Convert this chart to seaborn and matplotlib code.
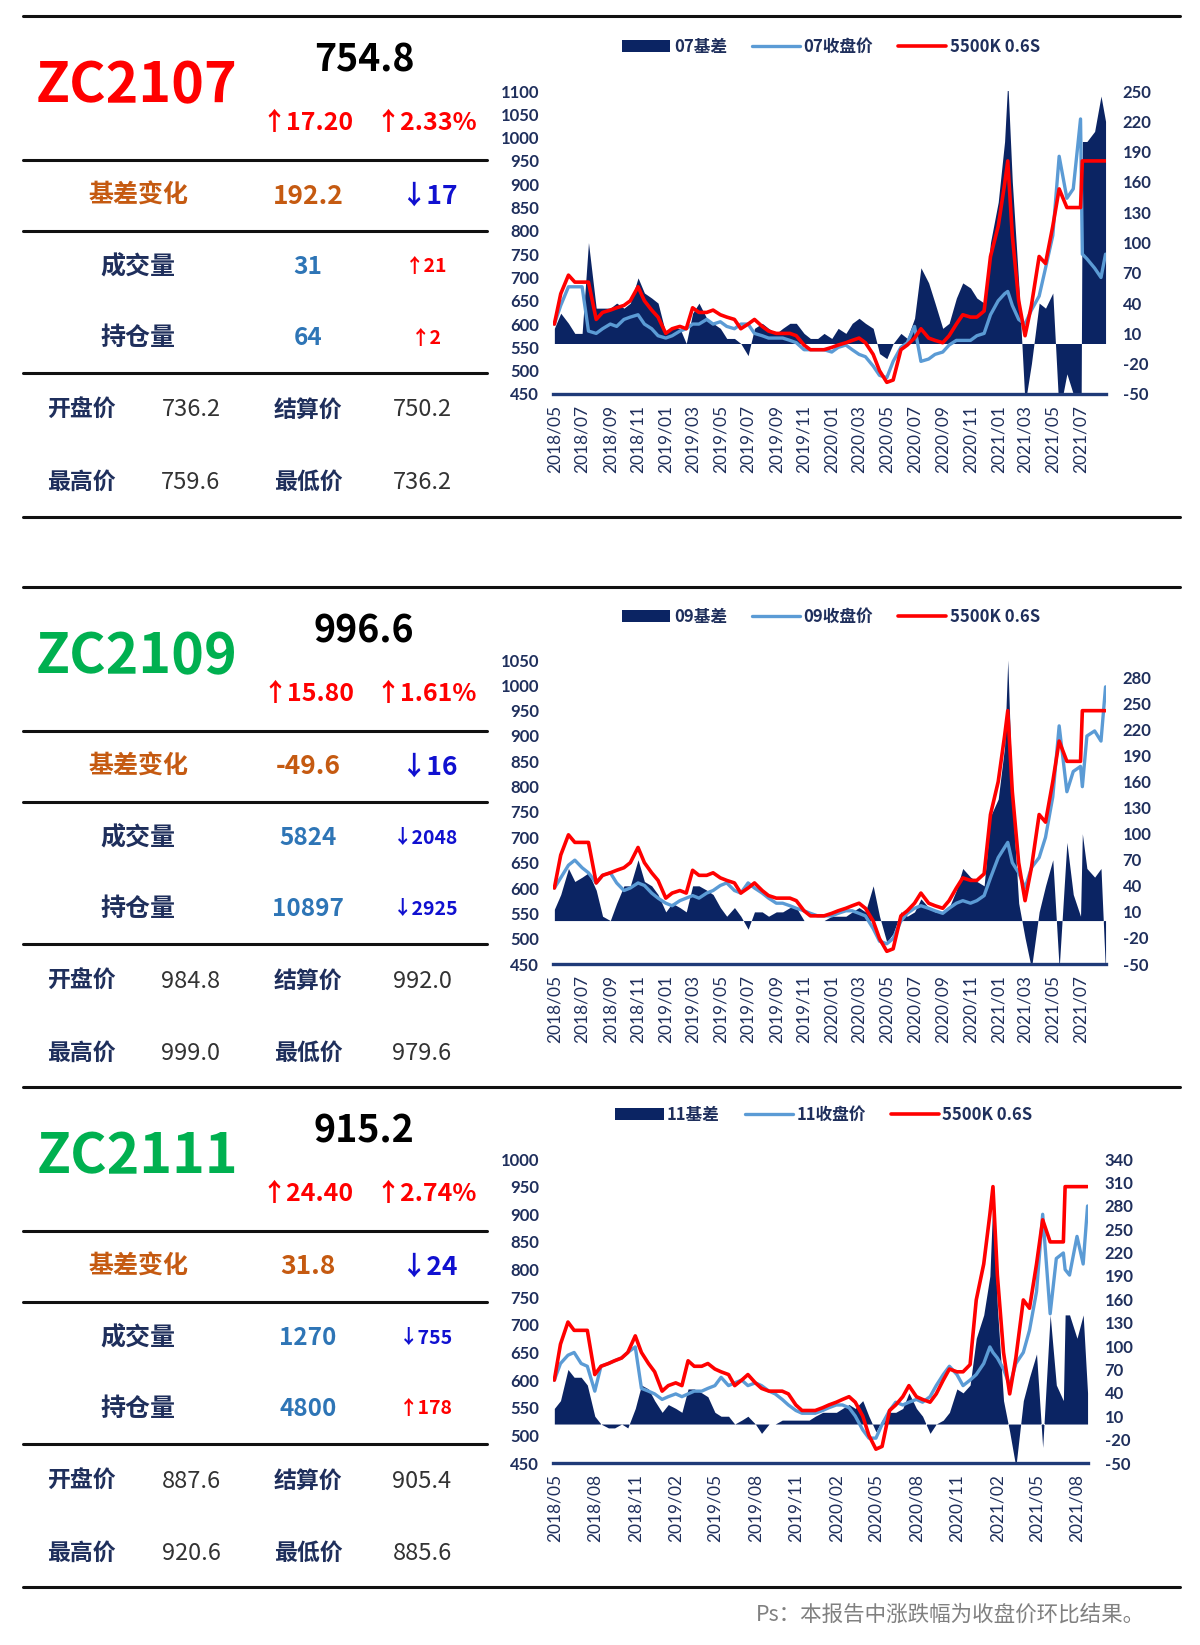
import pandas as pd
import numpy as np
import matplotlib
matplotlib.use("Agg")
import matplotlib.pyplot as plt
from matplotlib.lines import Line2D
import seaborn as sns

# ---- table data ----
contracts = ['ZC2107', 'ZC2109', 'ZC2111']
contract_colors = ['#FF0000', '#00B050', '#00B050']
last_price = ['754.8', '996.6', '915.2']
chg = ['↑17.20', '↑15.80', '↑24.40']
chg_pct = ['↑2.33%', '↑1.61%', '↑2.74%']
basis_now = ['192.2', '-49.6', '31.8']
basis_chg = ['↓17', '↓16', '↓24']
volume = ['31', '5824', '1270']
volume_chg = ['↑21', '↓2048', '↓755']
oi = ['64', '10897', '4800']
oi_chg = ['↑2', '↓2925', '↑178']
open_px = ['736.2', '984.8', '887.6']
settle_px = ['750.2', '992.0', '905.4']
high_px = ['759.6', '999.0', '920.6']
low_px = ['736.2', '979.6', '885.6']
tags = ['07', '09', '11']

# ---- chart data (semi-monthly, plus a few extra dates) ----
dates = pd.date_range('2018-05-01', '2021-08-15', freq='SMS').append(
    pd.DatetimeIndex(['2021-01-22', '2021-07-05', '2021-08-25'])).sort_values()

spot = ([600, 665, 705, 690, 690, 690, 610, 625, 630, 635, 640, 650, 680, 650, 630, 615]
        + [580, 590, 595, 590, 635, 625, 625, 630, 620, 615, 610, 590, 600, 610, 595, 585,
           580, 580, 580, 575, 555, 545, 545, 545]
        + [550, 555, 560, 565, 570, 560, 535, 500, 475, 480, 545, 555, 570, 590, 570, 565,
           560, 575, 600, 620, 615, 615, 628, 745]
        + [810, 900, 950, 790, 650, 575, 640, 745, 730, 810, 890, 850, 850, 850, 950, 950,
           950, 950, 950])

close07 = ([600, 640, 680, 680, 680, 585, 580, 590, 600, 595, 610, 615, 620, 600, 590, 575]
           + [570, 575, 585, 590, 600, 600, 610, 600, 605, 595, 590, 600, 600, 580, 575, 570,
              570, 570, 565, 560, 545, 545, 545, 545]
           + [540, 550, 555, 545, 535, 530, 510, 490, 485, 520, 550, 560, 595, 520, 525, 535,
              540, 555, 565, 565, 565, 575, 580, 620]
           + [650, 665, 670, 640, 610, 600, 630, 660, 720, 790, 960, 870, 890, 1040, 750, 740,
              720, 700, 750])
basis07 = ([15, 30, 20, 10, 10, 100, 35, 35, 35, 40, 35, 40, 65, 50, 45, 40]
           + [10, 15, 15, 0, 30, 40, 25, 20, 15, 5, 5, 0, -12, 15, 20, 15,
              10, 15, 20, 20, 10, 5, 5, 10]
           + [5, 15, 10, 20, 25, 20, 15, -10, -15, 0, 10, 5, 25, 75, 60, 40,
              15, 20, 45, 60, 55, 45, 40, 100]
           + [140, 200, 260, 160, 60, -60, -20, 40, 35, 50, -70, -30, -50, -190, 200, 200,
              210, 245, 220])

close09 = ([600, 620, 645, 655, 640, 630, 610, 625, 630, 610, 595, 600, 610, 605, 590, 580]
           + [570, 565, 575, 580, 585, 580, 590, 595, 605, 610, 595, 590, 610, 600, 590, 580,
              570, 570, 565, 560, 555, 550, 545, 545]
           + [545, 550, 555, 555, 550, 545, 520, 495, 490, 500, 535, 550, 560, 565, 560, 555,
              550, 560, 570, 575, 570, 575, 585, 620]
           + [660, 680, 690, 650, 630, 600, 640, 660, 700, 780, 920, 790, 830, 840, 800, 900,
              910, 890, 997])
basis09 = ([13, 30, 60, 45, 50, 55, 35, 5, 0, 20, 40, 40, 70, 45, 40, 30]
           + [10, 20, 15, 10, 40, 40, 35, 30, 15, 5, 15, 5, -10, 10, 10, 5,
              10, 10, 15, 15, 0, 0, 0, 0]
           + [5, 5, 5, 10, 15, 10, 40, 5, -25, -15, 10, 5, 10, 25, 15, 10,
              10, 15, 35, 60, 50, 45, 40, 120]
           + [140, 200, 300, 140, 20, -20, -55, 10, 40, 70, -55, 90, 30, 5, 100, 60,
              50, 60, -60])

close11 = ([600, 630, 645, 650, 630, 625, 580, 625, 630, 635, 640, 650, 660, 585, 580, 575]
           + [565, 570, 575, 570, 575, 580, 580, 585, 590, 605, 590, 595, 600, 590, 595, 590,
              580, 575, 565, 555, 545, 540, 540, 540]
           + [545, 550, 555, 555, 550, 535, 510, 495, 495, 520, 545, 560, 555, 560, 565, 560,
              570, 590, 610, 625, 610, 590, 600, 610]
           + [630, 660, 650, 640, 620, 590, 630, 650, 690, 760, 900, 720, 820, 830, 800, 790,
              860, 810, 915])
basis11 = ([20, 30, 70, 60, 60, 50, 10, 0, -5, -5, 0, -5, 20, 50, 45, 30]
           + [15, 25, 20, 15, 45, 45, 40, 35, 15, 10, 10, 0, 5, 10, 0, -12,
              0, 0, 5, 5, 5, 5, 5, 10]
           + [15, 15, 15, 20, 25, 20, 30, 10, -10, 5, 15, 15, 20, 40, 20, 10,
              -12, 0, 5, 15, 45, 40, 50, 110]
           + [140, 190, 290, 150, 30, -10, -55, 30, 60, 90, -30, 140, 50, 30, 140, 140,
              110, 140, 40])

closes = [close07, close09, close11]
bases = [basis07, basis09, basis11]
price_max = [1100, 1050, 1000]
basis_max = [250, 300, 340]
basis_tick_max = [250, 280, 340]
xticks_ab = pd.date_range('2018-05-01', '2021-07-01', freq='2MS')
xticks_c = pd.date_range('2018-05-01', '2021-08-01', freq='3MS')
xticks_all = [xticks_ab, xticks_ab, xticks_c]

# ---- layout (pixels of the 1200x1645 canvas) ----
W, H = 1200, 1645
panel_tops = [16, 587, 1087]
chart_tops = [91, 660, 1159]
chart_bottoms = [394, 964, 1463]
chart_rights = [1106, 1106, 1088]
legend_y = [47, 617, 1115]
legend_x = [831, 831, 824]

NAVY = '#0B2463'
LBLUE = '#5B9BD5'
RED = '#FF0000'
TXT = '#1F2F5C'
ORANGE = '#C55A11'
MIDBLUE = '#2E75B6'
DOWN = '#1010D0'

sns.set_theme(style="white")
plt.rcParams['font.family'] = ['Noto Sans CJK SC', 'DejaVu Sans']

fig = plt.figure(figsize=(W / 100, H / 100), dpi=100)


def fx(x):
    return x / W


def fy(y):
    return 1 - y / H


def hline(y, x0, x1):
    fig.add_artist(Line2D([fx(x0), fx(x1)], [fy(y), fy(y)], transform=fig.transFigure,
                          color='#111111', lw=2.2))


def put(x, y, s, size, color, weight='bold'):
    fig.text(fx(x), fy(y), s, ha='center', va='center', fontsize=size,
             color=color, fontweight=weight)


def arrow_color(s):
    return RED if s.startswith('↑') else DOWN


# full width rules
for y in [16, 517, 587, 1087, 1587]:
    hline(y, 23, 1180)

for i in range(3):
    t = panel_tops[i]
    for off in [143.5, 214.5, 357]:
        hline(t + off, 23, 487)

    put(137, t + 70, contracts[i], 40, contract_colors[i])
    put(364, t + 44, last_price[i], 27, 'black')
    put(308, t + 107, chg[i], 18, arrow_color(chg[i]))
    put(426, t + 107, chg_pct[i], 18, arrow_color(chg_pct[i]))

    put(138, t + 180, '基差变化', 18, ORANGE)
    put(308, t + 180, basis_now[i], 19, ORANGE)
    put(429, t + 180, basis_chg[i], 19, arrow_color(basis_chg[i]))

    put(138, t + 251, '成交量', 18, TXT)
    put(308, t + 251, volume[i], 17.5, MIDBLUE)
    put(426, t + 251, volume_chg[i], 14, arrow_color(volume_chg[i]))
    put(138, t + 322, '持仓量', 18, TXT)
    put(308, t + 322, oi[i], 17.5, MIDBLUE)
    put(426, t + 322, oi_chg[i], 14, arrow_color(oi_chg[i]))

    put(81, t + 394, '开盘价', 16.5, TXT)
    put(191, t + 394, open_px[i], 17, '#333333', 'normal')
    put(308, t + 394, '结算价', 16.5, TXT)
    put(422, t + 394, settle_px[i], 17, '#333333', 'normal')
    put(81, t + 466, '最高价', 16.5, TXT)
    put(191, t + 466, high_px[i], 17, '#333333', 'normal')
    put(308, t + 466, '最低价', 16.5, TXT)
    put(422, t + 466, low_px[i], 17, '#333333', 'normal')

    # ---- chart ----
    left = 553
    ax = fig.add_axes([fx(left), fy(chart_bottoms[i]), (chart_rights[i] - left) / W,
                       (chart_bottoms[i] - chart_tops[i]) / H])
    ax.fill_between(dates, 0, bases[i], color=NAVY, lw=0, label=f'{tags[i]}基差')
    ax2 = ax.twinx()
    sns.lineplot(x=dates, y=closes[i], ax=ax2, color=LBLUE, lw=2.4, label=f'{tags[i]}收盘价')
    sns.lineplot(x=dates, y=spot, ax=ax2, color=RED, lw=2.6, label='5500K 0.6S')
    ax2.get_legend().remove()
    ax2.set_xlabel('')
    ax2.set_ylabel('')

    ax.yaxis.tick_right()
    ax2.yaxis.tick_left()

    ax2.set_ylim(450, price_max[i])
    pt = np.arange(450, price_max[i] + 1, 50)
    ax2.set_yticks(pt)
    ax2.set_yticklabels([str(v) for v in pt], fontweight='bold', fontfamily='Lato',
                        fontsize=12, color=TXT)
    ax.set_ylim(-50, basis_max[i])
    bt = np.arange(-50, basis_tick_max[i] + 1, 30)
    ax.set_yticks(bt)
    ax.set_yticklabels([str(v) for v in bt], fontweight='bold', fontfamily='Lato',
                       fontsize=12, color=TXT)

    ax.set_xlim(dates[0] - pd.Timedelta(days=3), dates[-1] + pd.Timedelta(days=1))
    xt = xticks_all[i]
    ax.set_xticks(xt)
    ax.set_xticklabels([d.strftime('%Y/%m') for d in xt], rotation=90, fontfamily='Lato',
                       fontsize=12.5, color=TXT)

    ax.tick_params(axis='y', length=0, pad=12)
    ax.tick_params(axis='x', length=0, pad=8)
    ax2.tick_params(axis='y', length=0, pad=10)
    for sp in ['top', 'left', 'right']:
        ax.spines[sp].set_visible(False)
    for sp in ax2.spines.values():
        sp.set_visible(False)
    ax.spines['bottom'].set_color('#1F3A78')
    ax.spines['bottom'].set_linewidth(2.4)
    ax.grid(False)
    ax2.grid(False)

    handles = [ax.collections[0]] + ax2.get_lines()[:2]
    labels = [f'{tags[i]}基差', f'{tags[i]}收盘价', '5500K 0.6S']
    leg = fig.legend(handles, labels, loc='center', bbox_to_anchor=(fx(legend_x[i]), fy(legend_y[i])),
                     ncol=3, frameon=False, handlelength=2.9, handletextpad=0.2,
                     columnspacing=1.5, prop=dict(weight='bold', size=12))
    for tx in leg.get_texts():
        tx.set_color(TXT)

fig.text(fx(1145), fy(1615), 'Ps：本报告中涨跌幅为收盘价环比结果。', ha='right', va='center',
         color='#808080', fontsize=15.5)

fig.savefig('out.png', dpi=100, facecolor='white')
